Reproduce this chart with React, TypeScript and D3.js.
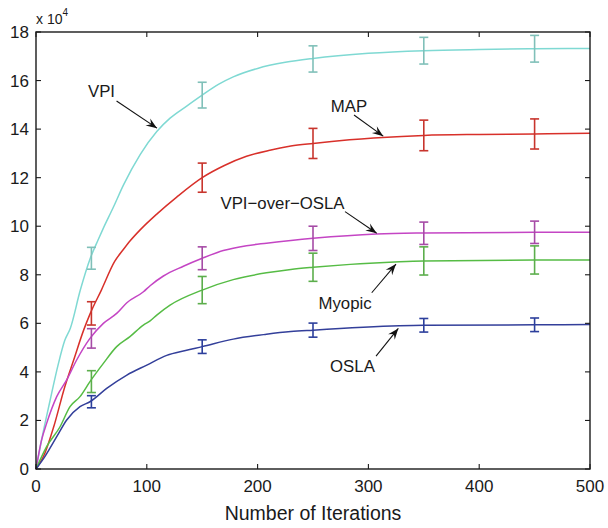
import React from "react";
import * as d3 from "d3";

// Iteration / value (×10^4) pairs for each method's mean curve
const vpiCurve: [number, number][] = [
  [0, 0], [5, 1.19], [12.6, 2.8], [20, 4.3], [26, 5.3], [31, 5.8], [40, 7.37], [49, 8.68],
  [56, 9.43], [60, 9.84], [70, 10.8], [79, 11.7], [94, 12.95], [109, 13.9], [121, 14.45],
  [136, 14.95], [150, 15.4], [165, 15.85], [178, 16.15], [200, 16.5], [225, 16.75],
  [250, 16.91], [300, 17.12], [350, 17.23], [400, 17.28], [450, 17.31], [500, 17.32],
];
const mapCurve: [number, number][] = [
  [0, 0], [8, 0.65], [16, 1.74], [26, 3.39], [34, 4.49], [43, 5.72], [49, 6.41], [59, 7.37],
  [71, 8.55], [79, 9.05], [85, 9.4], [94, 9.85], [109, 10.5], [127, 11.2], [150, 12.0],
  [170, 12.5], [190, 12.88], [210, 13.12], [230, 13.3], [250, 13.41], [283, 13.56],
  [330, 13.7], [350, 13.74], [400, 13.78], [450, 13.8], [500, 13.83],
];
const vpiOverOslaCurve: [number, number][] = [
  [0, 0], [5, 1.19], [9.6, 1.88], [18.7, 2.98], [27.7, 3.67], [36.7, 4.49], [48.7, 5.38],
  [60.8, 6.0], [72.8, 6.41], [82, 6.85], [97, 7.3], [103, 7.55], [115, 7.95], [133, 8.35],
  [150, 8.68], [169, 9.0], [190, 9.2], [208, 9.3], [250, 9.5], [307, 9.68], [350, 9.72],
  [450, 9.75], [500, 9.75],
];
const myopicCurve: [number, number][] = [
  [0, 0], [9.6, 0.92], [21.7, 1.74], [30.7, 2.57], [39.7, 2.98], [48.7, 3.6], [60.8, 4.35],
  [72.8, 5.04], [84.8, 5.45], [96.9, 5.93], [103, 6.1], [109, 6.34], [121, 6.75], [150, 7.37],
  [178, 7.8], [208, 8.08], [230, 8.22], [250, 8.31], [328, 8.54], [350, 8.57], [450, 8.61],
  [500, 8.61],
];
const oslaCurve: [number, number][] = [
  [0, 0], [8, 0.51], [18.7, 1.33], [27.7, 2.02], [39.7, 2.57], [48.7, 2.77], [63.8, 3.32],
  [82, 3.87], [100, 4.28], [118, 4.68], [135, 4.88], [150, 5.04], [178, 5.35], [208, 5.55],
  [230, 5.66], [250, 5.72], [328, 5.9], [350, 5.92], [450, 5.94], [500, 5.95],
];

// Error bars: sampled iterations, means and half-widths (×10^4)
const errIters = [50, 150, 250, 350, 450];
const vpiMeans = [8.68, 15.4, 16.89, 17.23, 17.31];
const vpiErr = [0.45, 0.53, 0.54, 0.55, 0.55];
const mapMeans = [6.41, 12.0, 13.41, 13.74, 13.8];
const mapErr = [0.48, 0.6, 0.62, 0.63, 0.62];
const vpiOverOslaMeans = [5.38, 8.68, 9.5, 9.71, 9.75];
const vpiOverOslaErr = [0.4, 0.47, 0.5, 0.46, 0.46];
const myopicMeans = [3.6, 7.37, 8.31, 8.57, 8.61];
const myopicErr = [0.45, 0.56, 0.58, 0.58, 0.58];
const oslaMeans = [2.77, 5.04, 5.72, 5.92, 5.94];
const oslaErr = [0.25, 0.28, 0.29, 0.28, 0.28];

const xTicks = [0, 100, 200, 300, 400, 500];
const yTicks = [0, 2, 4, 6, 8, 10, 12, 14, 16, 18];

const series = [
  { name: "VPI", curve: vpiCurve, means: vpiMeans, err: vpiErr, line: "#7fd9d3", bar: "#80c0b9" },
  { name: "MAP", curve: mapCurve, means: mapMeans, err: mapErr, line: "#d8302a", bar: "#c8352d" },
  { name: "VPI-over-OSLA", curve: vpiOverOslaCurve, means: vpiOverOslaMeans, err: vpiOverOslaErr, line: "#c445c4", bar: "#a64ba6" },
  { name: "Myopic", curve: myopicCurve, means: myopicMeans, err: myopicErr, line: "#56bc45", bar: "#5cae4c" },
  { name: "OSLA", curve: oslaCurve, means: oslaMeans, err: oslaErr, line: "#333f9a", bar: "#2c3f9c" },
];

// Annotation label centres and arrow tails/tips, in data units
const annotations = [
  { text: "VPI", label: [59.1, 15.58], from: [72.7, 15.16], to: [109.2, 14.04] },
  { text: "MAP", label: [282.4, 14.95], from: [287, 14.58], to: [313.4, 13.71] },
  { text: "VPI\u2212over\u2212OSLA", label: [222.5, 10.97], from: [278.9, 10.6], to: [307.5, 9.71] },
  { text: "Myopic", label: [278.9, 6.85], from: [303, 7.26], to: [324.9, 8.44] },
  { text: "OSLA", label: [285.6, 4.24], from: [306.9, 4.65], to: [327, 5.79] },
];

const W = 608;
const H = 528;
const left = 36;
const right = 590;
const top = 32;
const bottom = 469;
const FONT = "'Liberation Sans', Arial, Helvetica, sans-serif";

export default function App() {
  const x = d3.scaleLinear().domain([0, 500]).range([left, right]);
  const y = d3.scaleLinear().domain([0, 18]).range([bottom, top]);
  const line = d3
    .line<[number, number]>()
    .x((d) => x(d[0]))
    .y((d) => y(d[1]))
    .curve(d3.curveMonotoneX);

  const tickLen = 5;
  const axisColor = "#1a1a1a";

  const arrowHead = (fx: number, fy: number, tx: number, ty: number) => {
    const ang = Math.atan2(ty - fy, tx - fx);
    const len = 11;
    const half = 4.2;
    const notch = 7;
    const c = Math.cos(ang);
    const s = Math.sin(ang);
    const bx = tx - len * c;
    const by = ty - len * s;
    const nx = tx - notch * c;
    const ny = ty - notch * s;
    const p1 = [bx - half * s, by + half * c];
    const p2 = [bx + half * s, by - half * c];
    return `M${tx},${ty}L${p1[0]},${p1[1]}L${nx},${ny}L${p2[0]},${p2[1]}Z`;
  };

  return (
    <svg
      width={W}
      height={H}
      style={{ position: "absolute", left: 0, top: 0, background: "#fff" }}
      fontFamily={FONT}
    >
      <rect x={0} y={0} width={W} height={H} fill="#fff" />

      {/* mean curves */}
      {series.map((s) => (
        <path key={s.name} d={line(s.curve) || ""} fill="none" stroke={s.line} strokeWidth={1.5} />
      ))}

      {/* error bars */}
      {series.map((s) =>
        errIters.map((it, i) => {
          const cx = x(it);
          const y1 = y(s.means[i] + s.err[i]);
          const y2 = y(s.means[i] - s.err[i]);
          const cap = 4.5;
          return (
            <g key={s.name + it} stroke={s.bar} strokeWidth={1.6} fill="none">
              <line x1={cx} x2={cx} y1={y1} y2={y2} />
              <line x1={cx - cap} x2={cx + cap} y1={y1} y2={y1} />
              <line x1={cx - cap} x2={cx + cap} y1={y2} y2={y2} />
            </g>
          );
        })
      )}

      {/* axes box and ticks */}
      <rect x={left} y={top} width={right - left} height={bottom - top} fill="none" stroke={axisColor} strokeWidth={1.4} />
      {xTicks.map((t) => (
        <g key={"xt" + t}>
          <line x1={x(t)} x2={x(t)} y1={bottom} y2={bottom - tickLen} stroke={axisColor} strokeWidth={1.1} />
          <line x1={x(t)} x2={x(t)} y1={top} y2={top + tickLen} stroke={axisColor} strokeWidth={1.1} />
          <text x={x(t)} y={bottom + 23} textAnchor="middle" fontSize={17} fill="#1a1a1a">
            {t}
          </text>
        </g>
      ))}
      {yTicks.map((t) => (
        <g key={"yt" + t}>
          <line x1={left} x2={left + tickLen} y1={y(t)} y2={y(t)} stroke={axisColor} strokeWidth={1.1} />
          <line x1={right} x2={right - tickLen} y1={y(t)} y2={y(t)} stroke={axisColor} strokeWidth={1.1} />
          <text x={29} y={y(t) + 6} textAnchor="end" fontSize={17} fill="#1a1a1a">
            {t}
          </text>
        </g>
      ))}

      {/* exponent label */}
      <text x={36} y={24} fontSize={14} fill="#1a1a1a">
        x 10
        <tspan dy={-8} fontSize={10}>4</tspan>
      </text>

      {/* x axis title */}
      <text x={(left + right) / 2} y={520} textAnchor="middle" fontSize={19.5} fill="#1a1a1a">
        Number of Iterations
      </text>

      {/* annotations */}
      {annotations.map((a) => {
        const fx = x(a.from[0]);
        const fy = y(a.from[1]);
        const tx = x(a.to[0]);
        const ty = y(a.to[1]);
        return (
          <g key={a.text}>
            <text x={x(a.label[0])} y={y(a.label[1]) + 6} textAnchor="middle" fontSize={16.8} fill="#1a1a1a">
              {a.text}
            </text>
            <line x1={fx} y1={fy} x2={tx} y2={ty} stroke="#111" strokeWidth={1.1} />
            <path d={arrowHead(fx, fy, tx, ty)} fill="#111" />
          </g>
        );
      })}
    </svg>
  );
}
